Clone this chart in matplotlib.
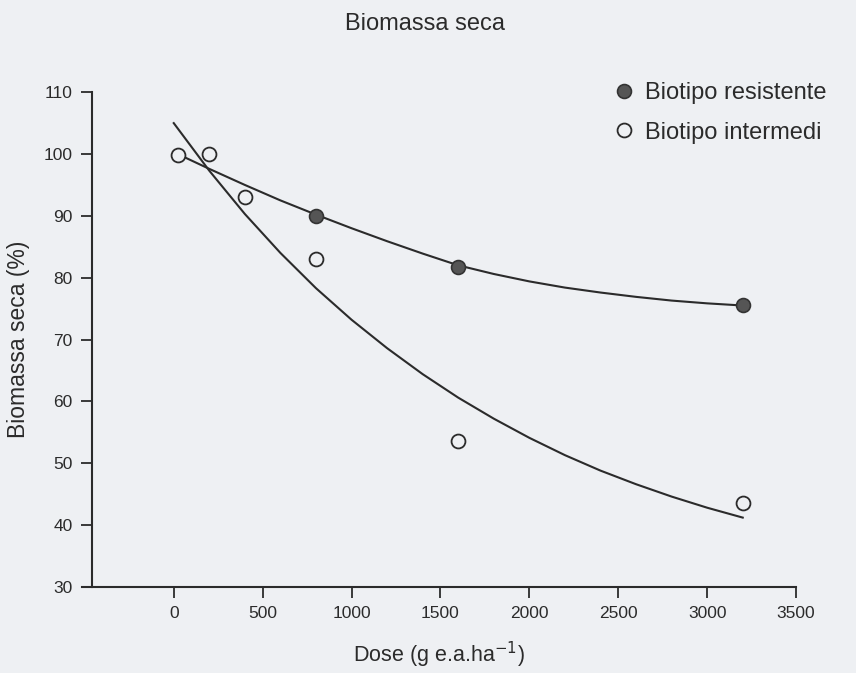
import matplotlib.pyplot as plt

plt.rcParams['font.family'] = ['Liberation Sans', 'DejaVu Sans']

# measured points
dose_int = [25, 200, 400, 800, 1600, 3200]
biom_int = [99.8, 100.0, 93.0, 83.0, 53.6, 43.5]
dose_res = [800, 1600, 3200]
biom_res = [90.0, 81.8, 75.6]

# fitted curves
curve_x = [0, 200, 400, 600, 800, 1000, 1200, 1400, 1600, 1800,
           2000, 2200, 2400, 2600, 2800, 3000, 3200]
curve_res = [100.3, 97.6, 95.0, 92.5, 90.2, 88.0, 85.9, 83.9, 82.0, 80.6,
             79.4, 78.4, 77.6, 76.9, 76.3, 75.85, 75.5]
curve_int = [105.0, 97.3, 90.3, 84.0, 78.3, 73.2, 68.6, 64.4, 60.6, 57.2,
             54.1, 51.3, 48.8, 46.6, 44.6, 42.8, 41.2]

xticks = [0, 500, 1000, 1500, 2000, 2500, 3000, 3500]
yticks = [30, 40, 50, 60, 70, 80, 90, 100, 110]

bg = '#eef0f3'
ink = '#2b2b2b'

fig = plt.figure(figsize=(8.56, 6.73), dpi=100, facecolor=bg)
ax = fig.add_axes([0.096, 0.128, 0.834, 0.735], facecolor=bg)

ax.plot(curve_x, curve_res, color=ink, lw=1.5)
ax.plot(curve_x, curve_int, color=ink, lw=1.5)
ax.plot(dose_res, biom_res, 'o', ms=10, mfc='#555555', mec='#333333', mew=1.2,
        label='Biotipo resistente')
ax.plot(dose_int, biom_int, 'o', ms=10, mfc=bg, mec=ink, mew=1.3,
        label='Biotipo intermedi')

ax.set_xlim(-515, 3500)
ax.set_ylim(30, 110)
ax.set_xticks(xticks)
ax.set_yticks(yticks)
ax.spines['top'].set_visible(False)
ax.spines['right'].set_visible(False)
ax.spines['left'].set_position(('data', -460))
for s in ['left', 'bottom']:
    ax.spines[s].set_color(ink)
    ax.spines[s].set_linewidth(1.5)
ax.tick_params(direction='out', length=8, width=1.3, color=ink,
               labelsize=12.5, labelcolor=ink, pad=6)

ax.set_xlabel('Dose (g e.a.ha$^{-1}$)', fontsize=15.5, color=ink, labelpad=13)
ax.set_ylabel('Biomassa seca (%)', fontsize=16.5, color=ink, labelpad=10)
fig.text(0.497, 0.965, 'Biomassa seca', ha='center', va='center',
         fontsize=17, color=ink)

fig.legend(loc='upper left', bbox_to_anchor=(0.69, 0.91), frameon=False,
           fontsize=17, handletextpad=0.4, labelspacing=0.75,
           handlelength=1.0, labelcolor=ink)

fig.savefig('out.png', dpi=100, facecolor=bg)
